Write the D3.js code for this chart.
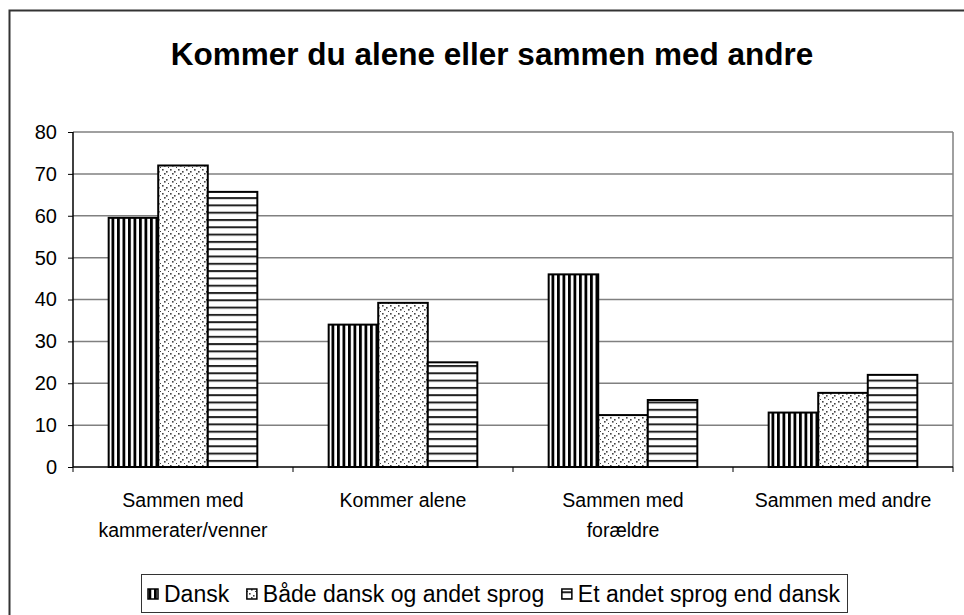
<!DOCTYPE html>
<html>
<head>
<meta charset="utf-8">
<script src="https://cdn.jsdelivr.net/npm/d3@7"></script>
<style>
  body { margin: 0; background: #fff; }
  svg { display: block; font-family: 'Liberation Sans', Arial, sans-serif; }
</style>
</head>
<body>
<script>
(function () {
  'use strict'

  var categories = [
    ['Sammen med', 'kammerater/venner'],
    ['Kommer alene'],
    ['Sammen med', 'forældre'],
    ['Sammen med andre']
  ]
  var series = ['Dansk', 'Både dansk og andet sprog', 'Et andet sprog end dansk']
  var dansk = [59.5, 34, 46, 13]
  var begge = [72, 39.2, 12.4, 17.7]
  var andet = [65.7, 25, 16, 22]
  var yTicks = [0, 10, 20, 30, 40, 50, 60, 70, 80]

  var values = [dansk, begge, andet]
  var fills = ['url(#p-vert)', 'url(#p-dots)', 'url(#p-horiz)']

  var W = 964
  var H = 615
  var plot = { left: 73, top: 132, right: 953, bottom: 467 }

  var svg = d3.select('body').append('svg')
    .attr('width', W)
    .attr('height', H)

  // Patterns
  var defs = svg.append('defs')
  var pv = defs.append('pattern').attr('id', 'p-vert')
    .attr('patternUnits', 'userSpaceOnUse').attr('width', 5.5).attr('height', 6)
  pv.append('rect').attr('width', 5.5).attr('height', 6).attr('fill', '#fff')
  pv.append('rect').attr('width', 2.8).attr('height', 6).attr('fill', '#000')

  var ph = defs.append('pattern').attr('id', 'p-horiz')
    .attr('patternUnits', 'userSpaceOnUse').attr('width', 7).attr('height', 7.3)
  ph.append('rect').attr('width', 7).attr('height', 7.3).attr('fill', '#fff')
  ph.append('rect').attr('y', 0).attr('width', 7).attr('height', 2).attr('fill', '#222')

  var pd = defs.append('pattern').attr('id', 'p-dots')
    .attr('patternUnits', 'userSpaceOnUse').attr('width', 8).attr('height', 8)
  pd.append('rect').attr('width', 8).attr('height', 8).attr('fill', '#fff')
  ;[[1, 1], [5, 3], [3, 5], [7, 7]].forEach(function (p) {
    pd.append('rect').attr('x', p[0]).attr('y', p[1])
      .attr('width', 1.6).attr('height', 1.6).attr('fill', '#444')
  })

  // Outer frame
  svg.append('rect')
    .attr('x', 9.5).attr('y', 10.5)
    .attr('width', W + 20).attr('height', H + 20)
    .attr('fill', 'none').attr('stroke', '#333').attr('stroke-width', 2)

  svg.append('text')
    .attr('x', 492).attr('y', 65)
    .attr('text-anchor', 'middle')
    .attr('font-size', 31.5).attr('font-weight', 'bold')
    .text('Kommer du alene eller sammen med andre')

  var x0 = d3.scaleBand().domain(d3.range(categories.length))
    .range([plot.left, plot.right])
  var x1 = d3.scaleBand().domain(d3.range(series.length))
    .range([0, x0.bandwidth()]).paddingOuter(0.72)
  var y = d3.scaleLinear().domain([0, 80]).range([plot.bottom, plot.top])

  // Grid
  svg.append('g').selectAll('line').data(yTicks.slice(1))
    .enter().append('line')
    .attr('x1', plot.left).attr('x2', plot.right)
    .attr('y1', function (d) { return y(d) }).attr('y2', function (d) { return y(d) })
    .attr('stroke', '#808080').attr('stroke-width', 1.5)
  svg.append('line')
    .attr('x1', plot.right).attr('x2', plot.right)
    .attr('y1', plot.top).attr('y2', plot.bottom)
    .attr('stroke', '#808080').attr('stroke-width', 1.5)

  // Bars
  var groups = svg.append('g').selectAll('g').data(categories)
    .enter().append('g')
    .attr('transform', function (d, i) { return 'translate(' + x0(i) + ',0)' })

  groups.selectAll('rect')
    .data(function (d, i) { return values.map(function (v, s) { return { s: s, v: v[i] } }) })
    .enter().append('rect')
    .attr('x', function (d) { return x1(d.s) })
    .attr('width', x1.bandwidth())
    .attr('y', function (d) { return y(d.v) })
    .attr('height', function (d) { return plot.bottom - y(d.v) })
    .attr('fill', function (d) { return fills[d.s] })
    .attr('stroke', '#000').attr('stroke-width', 2)

  // Axes
  var yAxis = d3.axisLeft(y).tickValues(yTicks).tickSize(5).tickPadding(11)
  var gy = svg.append('g')
    .attr('transform', 'translate(' + plot.left + ',0)')
    .call(yAxis)
  gy.select('.domain').attr('stroke', '#000').attr('stroke-width', 1.5)
    .attr('d', 'M0,' + plot.top + 'V' + plot.bottom)
  gy.selectAll('.tick line').attr('stroke', '#000')
  gy.selectAll('.tick text').attr('font-size', 20).attr('fill', '#000')
    .attr('font-family', "'Liberation Sans', Arial, sans-serif")

  var gx = svg.append('g')
  gx.append('line')
    .attr('x1', plot.left).attr('x2', plot.right)
    .attr('y1', plot.bottom).attr('y2', plot.bottom)
    .attr('stroke', '#000').attr('stroke-width', 1.5)
  gx.selectAll('.xt').data(d3.range(categories.length + 1))
    .enter().append('line')
    .attr('x1', function (d) { return plot.left + d * x0.step() })
    .attr('x2', function (d) { return plot.left + d * x0.step() })
    .attr('y1', plot.bottom).attr('y2', plot.bottom + 5)
    .attr('stroke', '#000')

  var labels = gx.selectAll('.xl').data(categories)
    .enter().append('text')
    .attr('text-anchor', 'middle')
    .attr('font-size', 19.5)
    .attr('transform', function (d, i) {
      return 'translate(' + (x0(i) + x0.bandwidth() / 2) + ',0)'
    })
  labels.selectAll('tspan').data(function (d) { return d })
    .enter().append('tspan')
    .attr('x', 0)
    .attr('y', function (d, i) { return 507 + i * 30 })
    .text(function (d) { return d })

  // Legend
  var leg = svg.append('g')
  leg.append('rect')
    .attr('x', 141.5).attr('y', 574.5)
    .attr('width', 706).attr('height', 38)
    .attr('fill', '#fff').attr('stroke', '#333').attr('stroke-width', 1)
  var items = series.map(function (name, i) {
    var ic = leg.append('rect')
      .attr('y', 589).attr('width', 10).attr('height', 10)
      .attr('fill', fills[i]).attr('stroke', '#000').attr('stroke-width', 1.5)
    var t = leg.append('text')
      .attr('y', 602)
      .attr('font-size', 23)
      .text(name)
    return { ic: ic, t: t, w: t.node().getComputedTextLength() }
  })
  var used = d3.sum(items, function (d) { return d.w + 16 })
  var gap = (840 - 148 - used) / (items.length - 1)
  var lx = 148
  items.forEach(function (d) {
    d.ic.attr('x', lx)
    d.t.attr('x', lx + 16)
    lx += 16 + d.w + gap
  })
}())
</script>
</body>
</html>
